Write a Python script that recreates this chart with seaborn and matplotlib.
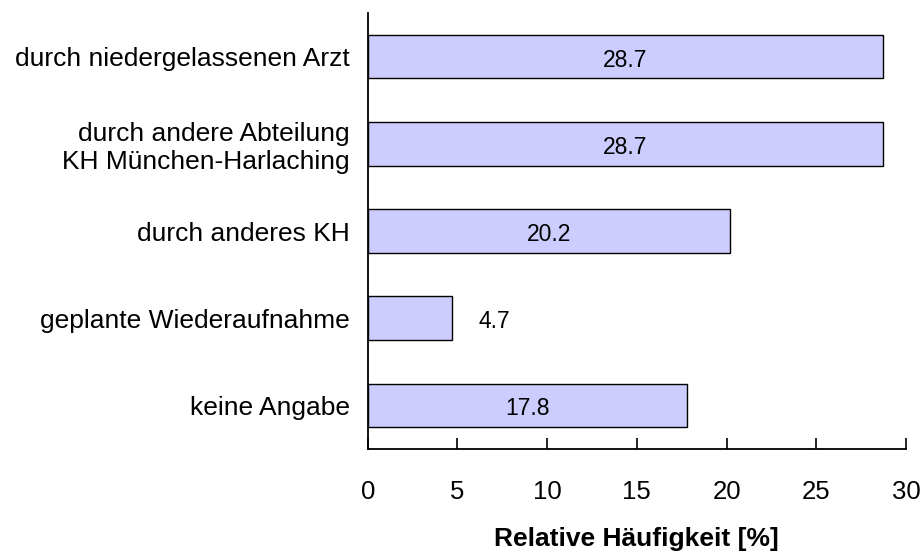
import matplotlib
matplotlib.use("Agg")
import matplotlib.pyplot as plt
import seaborn as sns
import pandas as pd

categories = [
    "durch niedergelassenen Arzt",
    "durch andere Abteilung\nKH München-Harlaching",
    "durch anderes KH",
    "geplante Wiederaufnahme",
    "keine Angabe",
]
values = [28.7, 28.7, 20.2, 4.7, 17.8]
value_labels = ["28.7", "28.7", "20.2", "4.7", "17.8"]
xticks = [0, 5, 10, 15, 20, 25, 30]

sns.set_theme(style="white")
plt.rcParams["font.family"] = ["Liberation Sans", "DejaVu Sans"]
plt.rcParams["text.color"] = "black"
plt.rcParams["xtick.color"] = "black"
plt.rcParams["ytick.color"] = "black"
plt.rcParams["axes.labelcolor"] = "black"

df = pd.DataFrame({"cat": categories, "val": values})

fig = plt.figure(figsize=(9.24, 5.56), dpi=100)
ax = fig.add_axes([0.398, 0.1924, 0.9805 - 0.398, 0.9766 - 0.1924])

sns.barplot(data=df, x="val", y="cat", orient="h", color="#CCCCFF",
            edgecolor="black", linewidth=1.0, width=0.5, saturation=1, ax=ax)

ax.set_xlim(0, 30)
ax.set_ylim(4.5, -0.5)
ax.set_xticks(xticks)
ax.set_xticklabels([str(t) for t in xticks])

for sp in ["top", "right"]:
    ax.spines[sp].set_visible(False)
for sp in ["left", "bottom"]:
    ax.spines[sp].set_color("black")
    ax.spines[sp].set_linewidth(1.3)

ax.tick_params(axis="x", direction="in", length=8, width=1.2, color="black",
               labelsize=18.5, pad=22, bottom=True, labelcolor="black")
ax.tick_params(axis="y", length=0, labelsize=19, pad=13, labelcolor="black")
for lbl in ax.get_yticklabels():
    lbl.set_horizontalalignment("right")

ax.set_ylabel("")
ax.set_xlabel("Relative Häufigkeit [%]", fontsize=19, fontweight="bold",
              labelpad=17, color="black")

for i, (v, t) in enumerate(zip(values, value_labels)):
    if v > 10:
        ax.text(v / 2, i + 0.04, t, ha="center", va="center", fontsize=16.5, color="black")
    else:
        ax.text(v + 1.5, i + 0.04, t, ha="left", va="center", fontsize=16.5, color="black")

fig.savefig("out.png", dpi=100)
